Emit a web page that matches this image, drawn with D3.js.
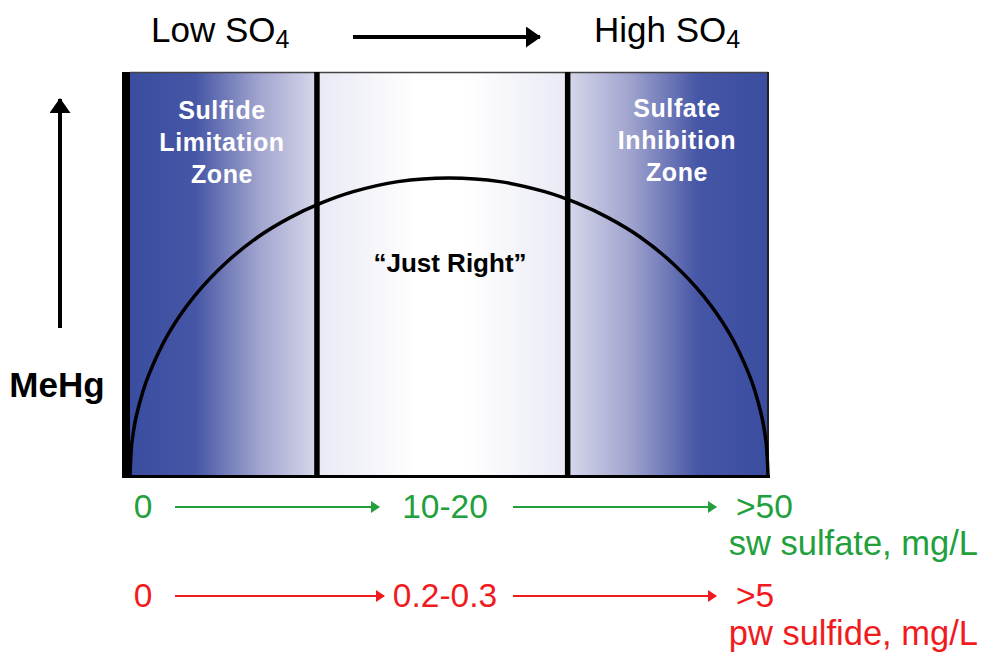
<!DOCTYPE html>
<html lang="en">
<head>
<meta charset="UTF-8">
<title>MeHg vs sulfate</title>
<script src="https://d3js.org/d3.v7.min.js"></script>
<style>
  body { margin: 0; background: #fff; }
  text { font-family: "Liberation Sans", Arial, sans-serif; }
</style>
</head>
<body>
<div id="chart"></div>
<script>
// data
const zones = ["Sulfide Limitation Zone", "Just Right", "Sulfate Inhibition Zone"];
const zoneEdges = [0, 29.3, 68.6, 100];            // sulfate gradient, % of range
const curveX = [0, 0.25, 0.5, 1, 2, 3, 6, 10, 15, 20, 25, 30, 35, 42, 50, 58, 65, 70, 75, 80, 85, 90, 94, 97, 98, 99, 99.5, 99.75, 100];
const curveY = [0, 7.4, 10.4, 14.7, 20.6, 25.1, 35, 44.2, 52.6, 59, 63.8, 67.5, 70.3, 72.8, 73.7, 72.8, 70.3, 67.5, 63.8, 59, 52.6, 44.2, 35, 25.1, 20.6, 14.7, 10.4, 7.4, 0];
const swLabels = ["0", "10-20", ">50"];
const pwLabels = ["0", "0.2-0.3", ">5"];
const zoneText = [["Sulfide", "Limitation", "Zone"], ["Sulfate", "Inhibition", "Zone"]];

const W = 982, H = 656;
const box = {left: 130, right: 768, top: 72, bottom: 475};

const svg = d3.select("#chart").append("svg")
  .attr("width", W).attr("height", H);

const x = d3.scaleLinear().domain([0, 100]).range([box.left, box.right]);
const y = d3.scaleLinear().domain([0, 100]).range([box.bottom, box.top]);

const defs = svg.append("defs");
const blue = "#3a4da0";

function grad(id, stops) {
  const g = defs.append("linearGradient").attr("id", id)
    .attr("x1", "0%").attr("x2", "100%").attr("y1", "0%").attr("y2", "0%");
  stops.forEach(s => g.append("stop").attr("offset", s[0]).attr("stop-color", s[1]));
}
grad("gLeft", [["0%", blue], ["35%", "#4656a6"], ["70%", "#a3a6cf"], ["100%", "#d6d8eb"]]);
grad("gMid", [["0%", "#e8e9f4"], ["40%", "#ffffff"], ["60%", "#ffffff"], ["100%", "#e8e9f4"]]);
grad("gRight", [["0%", "#d6d8eb"], ["30%", "#a3a6cf"], ["65%", "#4656a6"], ["100%", blue]]);

const fills = ["url(#gLeft)", "url(#gMid)", "url(#gRight)"];

// zone backgrounds
svg.selectAll("rect.zone")
  .data(zones)
  .join("rect")
    .attr("class", "zone")
    .attr("x", (d, i) => x(zoneEdges[i]))
    .attr("y", y(100))
    .attr("width", (d, i) => x(zoneEdges[i + 1]) - x(zoneEdges[i]))
    .attr("height", y(0) - y(100))
    .attr("fill", (d, i) => fills[i]);

// frame
svg.append("line").attr("x1", x(0)).attr("x2", x(100)).attr("y1", y(100) + 0.5).attr("y2", y(100) + 0.5)
  .attr("stroke", "#444").attr("stroke-width", 1.5);
svg.append("line").attr("x1", x(100)).attr("x2", x(100)).attr("y1", y(100)).attr("y2", y(0))
  .attr("stroke", "#222").attr("stroke-width", 2);

// zone dividers
svg.selectAll("line.div")
  .data(zoneEdges.slice(1, 3))
  .join("line")
    .attr("class", "div")
    .attr("x1", d => x(d)).attr("x2", d => x(d))
    .attr("y1", y(100)).attr("y2", y(0))
    .attr("stroke", "#000").attr("stroke-width", 5.5);

// MeHg curve
const pts = curveX.map((v, i) => [v, curveY[i]]);
svg.append("path")
  .datum(pts)
  .attr("d", d3.line().x(d => x(d[0])).y(d => y(d[1])).curve(d3.curveCatmullRom.alpha(0.5)))
  .attr("fill", "none")
  .attr("stroke", "#000")
  .attr("stroke-width", 3.5);

svg.append("line").attr("x1", x(0) - 8).attr("x2", x(100) + 2).attr("y1", y(0) + 1.5).attr("y2", y(0) + 1.5)
  .attr("stroke", "#000").attr("stroke-width", 3);
svg.append("line").attr("x1", x(0) - 4).attr("x2", x(0) - 4).attr("y1", y(100)).attr("y2", y(0) + 3)
  .attr("stroke", "#000").attr("stroke-width", 8);

// zone labels
const zoneCx = [222, 677];
const zoneBase = [119, 117];
zoneText.forEach((lines, zi) => {
  svg.append("g").selectAll("text")
    .data(lines)
    .join("text")
      .attr("x", zoneCx[zi])
      .attr("y", (d, i) => zoneBase[zi] + i * 32)
      .attr("text-anchor", "middle")
      .attr("font-size", 25)
      .attr("letter-spacing", 0.6)
      .attr("font-weight", "bold")
      .attr("fill", "#fff")
      .text(d => d);
});

svg.append("text")
  .attr("x", 450)
  .attr("y", 272)
  .attr("text-anchor", "middle")
  .attr("font-size", 26)
  .attr("font-weight", "bold")
  .text("\u201CJust Right\u201D");

// arrow markers
function marker(id, color, w, h) {
  defs.append("marker").attr("id", id)
    .attr("viewBox", `0 0 ${w} ${h}`)
    .attr("refX", w - 1).attr("refY", h / 2)
    .attr("markerWidth", w).attr("markerHeight", h)
    .attr("markerUnits", "userSpaceOnUse")
    .attr("orient", "auto")
    .append("path").attr("d", `M0,0L${w},${h / 2}L0,${h}Z`).attr("fill", color);
}
marker("aBlack", "#000", 15, 21);
marker("aGreen", "#21a03c", 9, 12);
marker("aRed", "#f01b1e", 9, 12);

// top header
function so4(tx, label) {
  const t = svg.append("text").attr("x", tx).attr("y", 42).attr("font-size", 35).attr("fill", "#000");
  t.append("tspan").text(label + " SO");
  t.append("tspan").attr("dy", 6).attr("font-size", 25).text("4");
}
so4(151, "Low");
so4(594, "High");
svg.append("line").attr("x1", 353).attr("x2", 540).attr("y1", 37).attr("y2", 37)
  .attr("stroke", "#000").attr("stroke-width", 4).attr("marker-end", "url(#aBlack)");

// MeHg axis arrow
svg.append("line").attr("x1", 60).attr("x2", 60).attr("y1", 328).attr("y2", 99)
  .attr("stroke", "#000").attr("stroke-width", 4).attr("marker-end", "url(#aBlack)");
svg.append("text").attr("x", 57).attr("y", 397).attr("text-anchor", "middle")
  .attr("font-size", 35).attr("font-weight", "bold").text("MeHg");

// bottom scales
const rowX = [143, 445, 736];
const anchors = ["middle", "middle", "start"];
function row(labels, color, mk, baseY, arrows, unit, unitY) {
  const g = svg.append("g").attr("fill", color);
  g.selectAll("text.v")
    .data(labels)
    .join("text")
      .attr("class", "v")
      .attr("x", (d, i) => rowX[i])
      .attr("y", baseY)
      .attr("text-anchor", (d, i) => anchors[i])
      .attr("font-size", 33.5)
      .text(d => d);
  g.selectAll("line")
    .data(arrows)
    .join("line")
      .attr("x1", d => d[0]).attr("x2", d => d[1])
      .attr("y1", baseY - 11).attr("y2", baseY - 11)
      .attr("stroke", color).attr("stroke-width", 2.2)
      .attr("marker-end", `url(#${mk})`);
  g.append("text").attr("x", 978).attr("y", unitY).attr("text-anchor", "end")
    .attr("font-size", 34.5).text(unit);
}
row(swLabels, "#21a03c", "aGreen", 518, [[175, 379], [513, 716]], "sw sulfate, mg/L", 555);
row(pwLabels, "#f01b1e", "aRed", 607, [[175, 384], [513, 716]], "pw sulfide, mg/L", 645);
</script>
</body>
</html>
